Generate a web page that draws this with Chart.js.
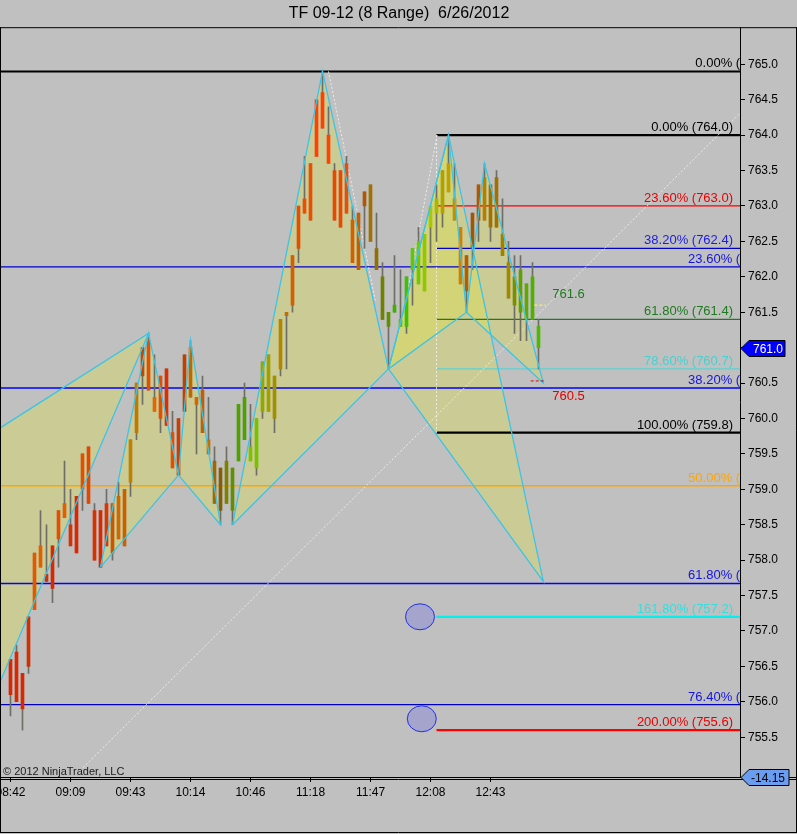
<!DOCTYPE html>
<html>
<head>
<meta charset="utf-8">
<script src="https://cdn.jsdelivr.net/npm/chart.js@4.4.1/dist/chart.umd.min.js"></script>
<style>
html,body{margin:0;padding:0;background:#c0c0c0;overflow:hidden}
#wrap{width:797px;height:834px;position:relative;background:#c0c0c0}
canvas{display:block}
</style>
</head>
<body>
<div id="wrap"><canvas id="c" width="797" height="834"></canvas></div>
<script>
// ---------------- DATA ----------------
const chartTitle = 'TF 09-12 (8 Range)  6/26/2012';
const timeLabels = ['08:42','09:09','09:43','10:14','10:46','11:18','11:47','12:08','12:43'];
const timeTickBars = [0,10,20,30,40,50,60,70,80];

const high = [756.6,756.8,756.4,757.2,758.1,758.7,758.5,758.2,758.7,759.4,
  759.0,758.9,759.5,759.6,758.8,758.7,759.0,758.8,759.1,759.0,
  759.7,760.5,761.0,761.2,760.9,760.6,760.7,760.1,760.0,760.9,
  761.1,760.3,760.6,760.3,759.6,759.3,759.6,759.3,760.2,760.5,
  760.2,760.0,760.8,760.9,760.6,761.4,761.5,762.3,763.0,763.7,
  763.6,764.5,764.9,764.4,763.6,763.5,763.7,763.0,762.9,763.2,
  763.3,762.9,762.2,761.5,762.3,762.1,762.0,762.4,762.7,762.6,
  763.0,763.3,763.5,764.0,763.6,762.7,762.3,762.9,763.3,763.6,
  763.3,763.5,763.1,762.5,762.3,762.3,761.9,762.2,761.4];
const low = [755.8,756.0,755.6,756.4,757.3,757.9,757.7,757.4,757.9,758.6,
  758.2,758.1,758.7,758.8,758.0,757.9,758.2,758.0,758.3,758.2,
  758.9,759.7,760.2,760.4,760.1,759.8,759.9,759.3,759.2,760.1,
  760.3,759.5,759.8,759.5,758.8,758.5,758.8,758.5,759.4,759.7,
  759.4,759.2,760.0,760.1,759.8,760.6,760.7,761.5,762.2,762.9,
  762.8,763.7,764.1,763.6,762.8,762.7,762.9,762.2,762.1,762.4,
  762.5,762.1,761.4,760.7,761.5,761.3,761.2,761.6,761.9,761.8,
  762.2,762.5,762.7,763.2,762.8,761.9,761.5,762.1,762.5,762.8,
  762.5,762.7,762.3,761.7,761.2,761.1,761.1,761.4,760.7];
const open = [756.6,756.0,756.4,756.5,757.3,757.9,757.8,758.2,758.3,758.6,
  758.5,758.9,759.0,758.8,758.7,758.7,758.2,758.8,758.3,759.0,
  759.1,759.8,760.6,760.4,760.3,760.6,759.9,759.8,760.0,760.1,
  760.3,760.3,759.8,759.7,759.4,759.3,758.8,759.3,759.4,759.7,
  759.6,759.3,760.1,760.1,760.6,760.7,761.45,761.6,762.4,762.9,
  763.6,763.7,764.1,764.0,763.5,763.5,762.9,762.8,762.9,763.0,
  762.5,762.4,762.0,761.5,761.5,761.4,761.3,762.1,761.9,762.6,
  762.7,762.9,762.9,763.2,763.1,762.7,762.3,762.4,762.8,762.8,
  763.3,762.7,762.6,762.2,762.0,761.5,761.9,761.4,761.3];
const close = [756.1,756.7,755.9,757.2,758.1,758.2,757.7,757.6,758.7,758.8,
  758.2,758.1,759.5,759.6,758.0,757.9,758.8,758.1,758.9,758.2,
  759.7,760.5,761.0,761.1,760.1,760.0,760.7,759.3,759.2,760.9,
  761.0,760.2,760.4,759.5,758.8,758.7,759.4,758.7,760.2,760.3,
  759.4,760.0,760.8,760.9,760.0,761.4,761.5,762.3,763.0,763.1,
  762.8,764.5,764.6,763.6,762.8,762.7,763.6,762.2,762.1,763.2,
  763.3,762.1,761.4,761.3,761.6,761.3,762.0,762.4,762.5,761.8,
  763.0,763.1,763.5,763.6,762.8,761.9,761.8,762.9,763.3,763.4,
  762.7,763.4,762.3,761.7,761.6,762.1,761.4,762.0,761.0];

// Fibonacci retracement (left, full width) and extension (right)
const leftFibPct    = ['0.00%','23.60%','38.20%','50.00%','61.80%','76.40%'];
const leftFibLevels = [764.9, 762.14, 760.43, 759.05, 757.67, 755.96];
const rightFibPct    = ['0.00%','23.60%','38.20%','61.80%','78.60%','100.00%','161.80%','200.00%'];
const rightFibLevels = [764.0, 763.0, 762.4, 761.4, 760.7, 759.8, 757.2, 755.6];
const rightFibStartBar = 71;

// Harmonic patterns: [bar, price] points X, A, B, C, D
const patternEarly = [[-10, 759.42], [-3, 756.03], [23, 761.2]]; // B, C, D (X and A off chart)
const patternOne   = [[15, 757.9], [23, 761.2], [28, 759.2], [30, 761.1], [35, 758.5]];
const patternTwo   = [[37, 758.5], [52, 764.9], [63, 760.7], [73, 764.0], [88.8, 757.7]];
const patternThree = [[63, 760.7], [73, 764.0], [76, 761.5], [79, 763.6], [88.8, 760.5]];

// Other drawing objects
const dottedTrend   = [[12.1, 755.07], [121.6, 764.31]];
const dottedLegA    = [[53, 764.9], [60.8, 761.67]];
const dottedLegB    = [[65.6, 761.53], [71.1, 764.0]];
const fibAnchor     = [[71, 764.0], [71, 759.8]];
const targetUpper   = {price: 761.6, from: 87.3, to: 89.2, textBar: 90.3};
const targetLower   = {price: 760.53, label: '760.5', from: 86.7, to: 89.2, textBar: 90.3};
const ellipsePoints = [[68.25, 757.2], [68.55, 755.76]];
const indicatorValue = '-14.15';
const copyrightText = '\u00A9 2012 NinjaTrader, LLC';

// ---------------- STYLES ----------------
const FONT = "'Liberation Sans', Arial, Helvetica, sans-serif";
const X_MIN = -1.5833, X_MAX = 121.5833;
const Y_MIN = 754.938, Y_MAX = 765.524;

const bodyColors = ['#d82800','#d82800','#d82800','#d03000','#e05800','#e06000','#d03000','#d82800','#e05000','#e06000',
  '#d83000','#d82800','#e05000','#e04800','#d83000','#d82800','#d83800','#c85800','#d06800','#c86000',
  '#c08000','#c07800','#c04800','#e05000','#e06800','#e05000','#d83000','#e05000','#c84000','#c04000',
  '#c06800','#d06800','#c06000','#c07000','#a06800','#806000','#808000','#609000','#50a000','#50a000',
  '#80c000','#78c000','#90a800','#a0a000','#a09000','#b08800','#c07000','#d06000','#e05000','#e85000',
  '#e85000','#ff4000','#ff4000','#ff4400','#e84800','#e84800','#e05010','#d06000','#c06000','#b05800',
  '#a07000','#907000','#708000','#609000','#40b000','#60c000','#40c000','#60c800','#70c800','#90c800',
  '#a8c800','#a8b800','#b0a000','#c0a000','#c09000','#d08000','#b06000','#a05800','#b05800','#b08000',
  '#a07000','#a07000','#a08000','#a08800','#789000','#60a000','#60a800','#50b000','#50b800'];

const leftFibStyle = [
  {c:'#000000', w:2, t:'#000000'},
  {c:'#0000d0', w:1.3, t:'#1414e0'},
  {c:'#0000ff', w:1.6, t:'#1414e0'},
  {c:'#ffa500', w:1.6, t:'#ffa500'},
  {c:'#0000ff', w:1.6, t:'#1414e0'},
  {c:'#0000c0', w:1.3, t:'#1414e0'}];
const rightFibStyle = [
  {c:'#000000', w:2.2, t:'#000000'},
  {c:'#ff0000', w:1.3, t:'#e80000'},
  {c:'#0000c8', w:1.3, t:'#1c1ce0'},
  {c:'#207a20', w:1.3, t:'#1e7a1e'},
  {c:'#60d0d0', w:1.3, t:'#48d0d0'},
  {c:'#000000', w:2.2, t:'#000000'},
  {c:'#00f0f0', w:2.2, t:'#30e0e0'},
  {c:'#ff0000', w:2.2, t:'#e80000'}];

const PAT_FILL = 'rgba(230,230,50,0.30)';
const PAT_EDGE = '#3cc4e4';

// ---------------- DATASETS ----------------
const pts = arr => arr.map(p => ({x: p[0], y: p[1]}));
const datasets = [];

function triangle(a, b, c) { return pts([a, b, c, a]); }
function patternTriangles(p) {
  if (p.length === 3) return [triangle(p[0], p[1], p[2])];
  return [triangle(p[0], p[1], p[2]), triangle(p[2], p[3], p[4])];
}
const allTriangles = [patternEarly, patternOne, patternTwo, patternThree].flatMap(patternTriangles);

allTriangles.forEach(t => datasets.push({
  type: 'line', data: t, order: 100, fill: 'shape', backgroundColor: PAT_FILL,
  borderWidth: 0, borderColor: 'rgba(0,0,0,0)', pointRadius: 0, tension: 0
}));

leftFibLevels.forEach((v, i) => datasets.push({
  type: 'line', data: [{x: X_MIN, y: v}, {x: X_MAX, y: v}], order: 90,
  borderColor: leftFibStyle[i].c, borderWidth: leftFibStyle[i].w, pointRadius: 0, fill: false
}));
rightFibLevels.forEach((v, i) => datasets.push({
  type: 'line', data: [{x: rightFibStartBar, y: v}, {x: X_MAX, y: v}], order: 89,
  borderColor: rightFibStyle[i].c, borderWidth: rightFibStyle[i].w, pointRadius: 0, fill: false
}));

[dottedTrend, dottedLegA, dottedLegB, fibAnchor].forEach(l => datasets.push({
  type: 'line', data: pts(l), order: 85, borderColor: 'rgba(240,240,240,0.9)', borderWidth: 1,
  borderDash: [2, 2], pointRadius: 0, fill: false
}));

datasets.push({
  type: 'bar', data: high.map((h, i) => ({x: i, y: [low[i], h]})), order: 60,
  backgroundColor: '#6e6e66', borderWidth: 0, barThickness: 1, grouped: false
});
datasets.push({
  type: 'bar', data: open.map((o, i) => ({x: i, y: [o, close[i]]})), order: 50,
  backgroundColor: bodyColors, borderWidth: 0, barThickness: 3, grouped: false, minBarLength: 1
});

allTriangles.forEach(t => datasets.push({
  type: 'line', data: t, order: 40, fill: false, borderColor: PAT_EDGE, borderWidth: 1.3,
  pointRadius: 0, tension: 0
}));

datasets.push({
  type: 'line', data: [{x: targetUpper.from, y: targetUpper.price}, {x: targetUpper.to, y: targetUpper.price}],
  order: 30, borderColor: '#ffff40', borderWidth: 1, borderDash: [3, 2], pointRadius: 0, fill: false
});
datasets.push({
  type: 'line', data: [{x: targetLower.from, y: targetLower.price}, {x: targetLower.to, y: targetLower.price}],
  order: 30, borderColor: '#e00000', borderWidth: 1, borderDash: [3, 2], pointRadius: 0, fill: false
});

// ---------------- PLUGIN ----------------
const overlay = {
  id: 'overlay',
  afterDatasetsDraw(chart) {
    const {ctx, chartArea: a, scales: {x, y}} = chart;
    ctx.save();
    ctx.beginPath();
    ctx.rect(a.left, a.top, a.right - a.left, a.bottom - a.top);
    ctx.clip();
    ctx.font = '13px ' + FONT;
    ctx.textBaseline = 'alphabetic';
    ctx.textAlign = 'right';
    leftFibLevels.forEach((v, i) => {
      ctx.fillStyle = leftFibStyle[i].t;
      ctx.fillText(leftFibPct[i] + ' (' + v.toFixed(1) + ')', a.right + 37, y.getPixelForValue(v) - 4);
    });
    rightFibLevels.forEach((v, i) => {
      ctx.fillStyle = rightFibStyle[i].t;
      ctx.fillText(rightFibPct[i] + ' (' + v.toFixed(1) + ')', a.right - 7, y.getPixelForValue(v) - 4);
    });
    ctx.textAlign = 'left';
    ctx.fillStyle = '#1e7a1e';
    ctx.fillText(targetUpper.price.toFixed(1), x.getPixelForValue(targetUpper.textBar), y.getPixelForValue(targetUpper.price) - 7);
    ctx.fillStyle = '#e00000';
    ctx.fillText(targetLower.label, x.getPixelForValue(targetLower.textBar), y.getPixelForValue(targetLower.price) + 19);

    ellipsePoints.forEach(p => {
      ctx.beginPath();
      ctx.ellipse(x.getPixelForValue(p[0]), y.getPixelForValue(p[1]), 14.5, 13, 0, 0, Math.PI * 2);
      ctx.fillStyle = 'rgba(130,130,220,0.45)';
      ctx.fill();
      ctx.lineWidth = 1;
      ctx.strokeStyle = '#2030e0';
      ctx.stroke();
    });

    ctx.font = '11px ' + FONT;
    ctx.fillStyle = '#202020';
    ctx.fillText(copyrightText, a.left + 2, a.bottom - 2);
    ctx.restore();
  },
  afterDraw(chart) {
    const {ctx, chartArea: a, scales: {y}, width, height} = chart;
    ctx.save();
    ctx.strokeStyle = '#000';
    ctx.lineWidth = 1;
    ctx.beginPath();
    ctx.moveTo(0, a.top + 0.5); ctx.lineTo(width, a.top + 0.5);
    ctx.moveTo(0.5, a.top); ctx.lineTo(0.5, height - 1);
    ctx.moveTo(width - 0.5, a.top); ctx.lineTo(width - 0.5, height - 1);
    ctx.moveTo(0, height - 1.5); ctx.lineTo(width, height - 1.5);
    ctx.moveTo(0, a.bottom + 0.5); ctx.lineTo(width, a.bottom + 0.5);
    ctx.moveTo(0, a.bottom + 2.5); ctx.lineTo(width, a.bottom + 2.5);
    ctx.stroke();

    // current price flag
    const last = close[close.length - 1];
    const py = Math.round(y.getPixelForValue(last)) + 0.5;
    const x0 = a.right + 1;
    ctx.beginPath();
    ctx.moveTo(x0, py); ctx.lineTo(x0 + 8, py - 8); ctx.lineTo(x0 + 44, py - 8);
    ctx.lineTo(x0 + 44, py + 8); ctx.lineTo(x0 + 8, py + 8); ctx.closePath();
    ctx.fillStyle = '#0000ff'; ctx.fill(); ctx.stroke();
    ctx.fillStyle = '#ffffff';
    ctx.font = '12px ' + FONT;
    ctx.textAlign = 'left'; ctx.textBaseline = 'middle';
    ctx.fillText(last.toFixed(1), x0 + 12, py + 1);

    // indicator value flag
    const iy = a.bottom + 0.5;
    ctx.beginPath();
    ctx.moveTo(x0, iy); ctx.lineTo(x0 + 8, iy - 8); ctx.lineTo(x0 + 48, iy - 8);
    ctx.lineTo(x0 + 48, iy + 8); ctx.lineTo(x0 + 8, iy + 8); ctx.closePath();
    ctx.fillStyle = '#6a9cf0'; ctx.fill(); ctx.stroke();
    ctx.fillStyle = '#000';
    ctx.fillText(indicatorValue, x0 + 10, iy + 1);
    ctx.restore();
  }
};

Chart.defaults.font.family = FONT;
new Chart(document.getElementById('c'), {
  type: 'line',
  data: {datasets},
  options: {
    responsive: false, animation: false, devicePixelRatio: 1,
    layout: {padding: {left: 1, top: 1, right: 0, bottom: 0}},
    plugins: {
      legend: {display: false}, tooltip: {enabled: false},
      title: {display: true, text: chartTitle, color: '#000', font: {size: 16, weight: 'normal'}, padding: {top: 3, bottom: 4}}
    },
    scales: {
      x: {
        type: 'linear', min: X_MIN, max: X_MAX, offset: false,
        afterBuildTicks: s => { s.ticks = timeTickBars.map(v => ({value: v})); },
        afterFit: s => { s.height = 57; s.paddingLeft = 0; s.paddingRight = 0; },
        ticks: {
          autoSkip: false, maxRotation: 0, color: '#000', font: {size: 12}, padding: 3,
          callback: v => { const i = timeTickBars.indexOf(Math.round(v)); return i >= 0 ? timeLabels[i] : ''; }
        },
        grid: {display: true, drawOnChartArea: false, tickLength: 5, tickColor: '#000', offset: false},
        border: {display: true, color: '#000'}
      },
      y: {
        type: 'linear', position: 'right', min: Y_MIN, max: Y_MAX,
        afterBuildTicks: s => { s.ticks = s.ticks.filter(t => t.value >= 755.45 && t.value <= 765.05); },
        afterFit: s => { s.width = 57; s.paddingTop = 0; s.paddingBottom = 0; },
        ticks: {stepSize: 0.5, includeBounds: false, color: '#000', font: {size: 12}, padding: 3,
          callback: v => Number(v).toFixed(1)},
        grid: {display: true, drawOnChartArea: false, tickLength: 5, tickColor: '#000'},
        border: {display: true, color: '#000'}
      }
    }
  },
  plugins: [overlay]
});
</script>
</body>
</html>
